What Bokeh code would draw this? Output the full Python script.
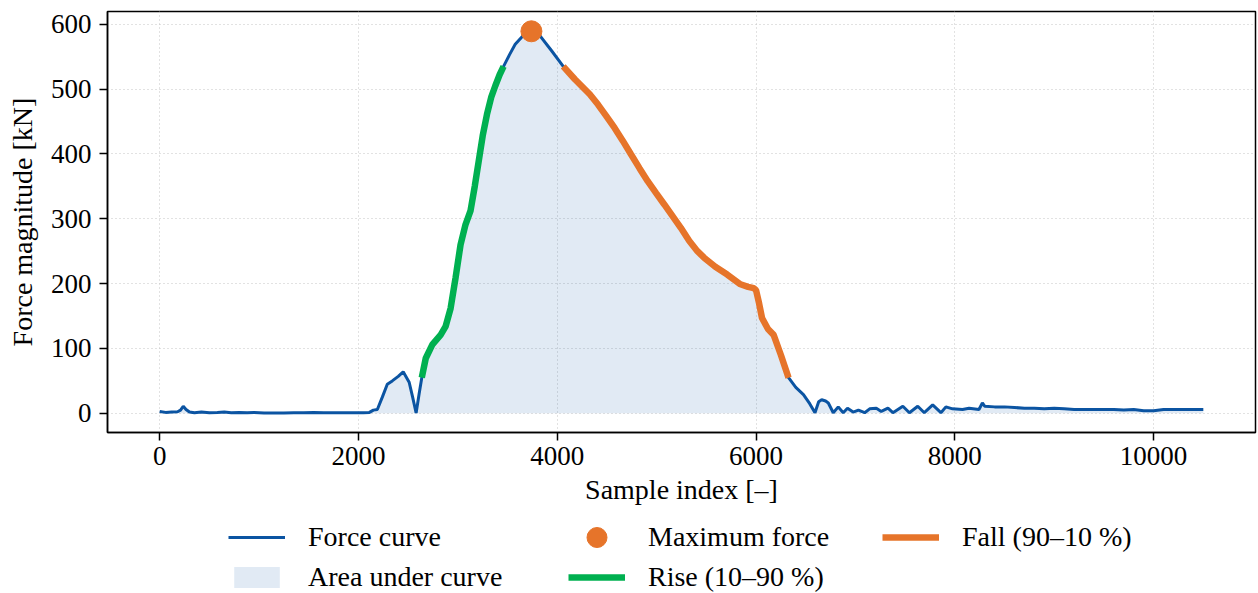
from bokeh.plotting import figure
from bokeh.models import Range1d, FixedTicker, Legend, LegendItem
from bokeh.layouts import column
from bokeh.embed import file_html
from bokeh.resources import INLINE

# ---------------- data ----------------
sample_index = [
    0, 60, 120, 180, 210, 237, 265, 300, 350, 420, 500, 580, 650, 720, 800, 880, 950,
    1050, 1150, 1250, 1350, 1450, 1550, 1650, 1750, 1850, 1950, 2050, 2110, 2150, 2190,
    2240, 2290, 2340, 2400, 2450, 2510, 2545, 2580, 2610,
    2637, 2677, 2743, 2827, 2877, 2927, 2977, 3027, 3077, 3127, 3170, 3210, 3250, 3293,
    3335, 3377, 3420, 3460,
    3520, 3577, 3660, 3740, 3827, 3943,
    4060, 4177, 4327, 4410, 4490, 4577, 4660, 4743, 4827, 4910, 4993, 5077, 5160, 5243,
    5327, 5410, 5477, 5590, 5710, 5843, 5920, 5977, 6000, 6030, 6060, 6120, 6177, 6250, 6327,
    6400, 6477, 6540, 6593, 6630, 6660, 6700, 6727, 6777, 6827, 6877, 6920, 6977, 7030,
    7093, 7143, 7210, 7260, 7327, 7377, 7477, 7543, 7627, 7693, 7777, 7860, 7910, 7977,
    8077, 8143, 8243, 8277, 8300, 8400, 8500, 8600, 8700, 8800, 8900, 9000, 9100, 9200,
    9400, 9600, 9700, 9800, 9900, 10000, 10100, 10200, 10300, 10500,
]
force_kn = [
    3, 1.5, 2, 2.5, 5, 11, 6, 2, 1, 2, 1, 1.5, 2, 1, 1.5, 1, 1.5,
    0.5, 0.5, 0.5, 1, 1, 1.5, 1, 1, 1, 1, 1, 1.5, 5, 6,
    25, 45, 50, 57, 64, 48, 25, 0.5, 30,
    55, 85, 106, 121, 134, 162, 209, 260, 291, 312, 350, 389, 428, 461,
    487, 505, 522, 535,
    553, 569, 583, 589, 582, 559,
    535, 515, 492, 476, 459, 440, 420, 399, 378, 358, 340, 322, 304, 286,
    266, 250, 240, 226, 214, 199, 195, 193, 190, 170, 147, 130, 121, 90, 55,
    40, 29, 15, 1, 18, 21, 19, 16, 1, 10, 1, 8, 2, 5,
    1, 7, 8, 3, 8, 1, 11, 1, 11, 1, 13, 1, 10, 7,
    6, 8, 6, 16, 11, 10, 10, 9, 8, 8, 7, 8, 7, 6,
    6, 6, 5, 6, 4, 4, 6, 6, 6, 6,
]
rise_start, rise_end = 2637, 3460      # 10 % -> 90 % on the rising edge
fall_start, fall_end = 4060, 6327      # 90 % -> 10 % on the falling edge

x_ticks = [0, 2000, 4000, 6000, 8000, 10000]
y_ticks = [0, 100, 200, 300, 400, 500, 600]

legend_labels = ["Force curve", "Area under curve", "Maximum force",
                 "Rise (10\u201390 %)", "Fall (90\u201310 %)"]

# ---------------- derived ----------------
zeros = [0] * len(force_kn)
rise_x = [x for x in sample_index if rise_start <= x <= rise_end]
rise_y = [y for x, y in zip(sample_index, force_kn) if rise_start <= x <= rise_end]
fall_x = [x for x in sample_index if fall_start <= x <= fall_end]
fall_y = [y for x, y in zip(sample_index, force_kn) if fall_start <= x <= fall_end]
peak_i = max(range(len(force_kn)), key=lambda i: force_kn[i])
peak_x, peak_y = [sample_index[peak_i]], [force_kn[peak_i]]

BLUE = "#0b54a2"
ORANGE = "#e6742a"
GREEN = "#00b050"
FONT = "Liberation Serif"
W = 1258


def draw_series(fig):
    a = fig.varea(x=sample_index, y1=zeros, y2=force_kn, fill_color=BLUE, fill_alpha=0.12)
    c = fig.line(sample_index, force_kn, line_color=BLUE, line_width=3)
    r = fig.line(rise_x, rise_y, line_color=GREEN, line_width=6.5)
    f = fig.line(fall_x, fall_y, line_color=ORANGE, line_width=6.5)
    m = fig.scatter(peak_x, peak_y, size=21, marker="circle",
                    fill_color=ORANGE, line_color=ORANGE)
    return a, c, r, f, m


# ---------------- main chart ----------------
p = figure(width=W, height=515, output_backend="svg", toolbar_location=None,
           x_range=Range1d(-525, 11025), y_range=Range1d(-29.5, 619.5),
           min_border_left=107, min_border_right=3, min_border_top=11, min_border_bottom=83)
p.background_fill_color = "white"
p.border_fill_color = "white"
p.outline_line_color = "black"
p.outline_line_width = 1.5
p.outline_line_alpha = 1.0

p.grid.grid_line_color = "#c4c4c4"
p.grid.grid_line_dash = "1 3"
p.grid.grid_line_width = 1
p.xgrid.ticker = FixedTicker(ticks=x_ticks)
p.ygrid.ticker = FixedTicker(ticks=y_ticks)

p.xaxis.ticker = FixedTicker(ticks=x_ticks)
p.yaxis.ticker = FixedTicker(ticks=y_ticks)
for ax in (p.xaxis[0], p.yaxis[0]):
    ax.axis_line_color = "black"
    ax.axis_line_width = 1.5
    ax.major_tick_line_color = "black"
    ax.major_tick_line_width = 1.5
    ax.major_tick_out = 8
    ax.major_tick_in = 0
    ax.minor_tick_line_color = None
    ax.major_label_text_font = FONT
    ax.major_label_text_font_size = "27px"
    ax.major_label_text_color = "black"
    ax.axis_label_text_font = FONT
    ax.axis_label_text_font_size = "28px"
    ax.axis_label_text_font_style = "normal"
    ax.axis_label_text_color = "black"
p.xaxis.axis_label = "Sample index [\u2013]"
p.yaxis.axis_label = "Force magnitude [kN]"
p.xaxis.major_label_standoff = 6
p.yaxis.major_label_standoff = 8
p.xaxis.axis_label_standoff = 6
p.yaxis.axis_label_standoff = 10

draw_series(p)

# ---------------- legend strip (same series, out of view; only legends show) ----------------
lg = figure(width=W, height=78, output_backend="svg", toolbar_location=None,
            x_range=Range1d(50000, 60000), y_range=Range1d(5000, 6000),
            x_axis_location=None, y_axis_location=None,
            min_border_left=0, min_border_right=0, min_border_top=0, min_border_bottom=0)
lg.outline_line_color = None
lg.grid.visible = False
lg.background_fill_color = "white"
lg.border_fill_color = "white"
la, lc, lr, lf, lm = draw_series(lg)

X0 = 107  # the column aligns this strip's frame with the chart's frame


def make_legend(items, x, y, glyph_height=26):
    leg = Legend(items=items, location=(x - X0, y), orientation="vertical")
    leg.label_text_font = FONT
    leg.label_text_font_size = "28px"
    leg.label_text_color = "black"
    leg.label_height = 32
    leg.glyph_width = 57
    leg.glyph_height = glyph_height
    leg.label_standoff = 23
    leg.spacing = 8
    leg.padding = 0
    leg.margin = 0
    leg.border_line_color = None
    leg.background_fill_alpha = 0
    return leg


lg.add_layout(make_legend([LegendItem(label=legend_labels[0], renderers=[lc]),
                           LegendItem(label=legend_labels[1], renderers=[la])], 228, 0), "center")
lg.add_layout(make_legend([LegendItem(label=legend_labels[2], renderers=[lm])], 568, 31,
                          glyph_height=50), "center")
lg.add_layout(make_legend([LegendItem(label=legend_labels[3], renderers=[lr])], 568, 0), "center")
lg.add_layout(make_legend([LegendItem(label=legend_labels[4], renderers=[lf])], 882, 40), "center")

root = column(p, lg, spacing=0)
open("out.html", "w").write(file_html(root, INLINE))
